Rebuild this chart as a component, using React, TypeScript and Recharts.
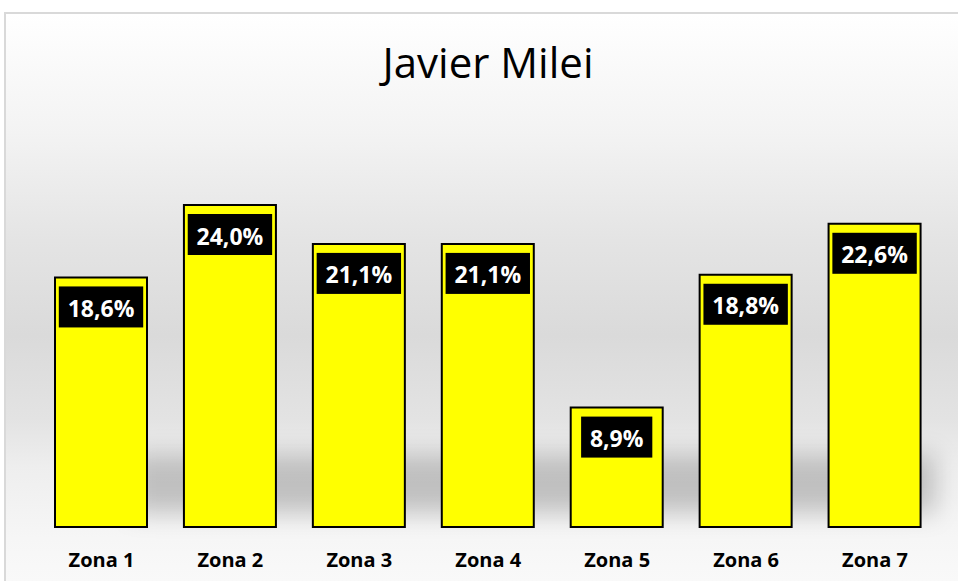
import React from 'react';
import { BarChart, Bar, XAxis, YAxis, LabelList } from 'recharts';

const zonas = ['Zona 1', 'Zona 2', 'Zona 3', 'Zona 4', 'Zona 5', 'Zona 6', 'Zona 7'];
const milei = [18.6, 24.0, 21.1, 21.1, 8.9, 18.8, 22.6];

const data = zonas.map((zona, i) => ({ zona, value: milei[i] }));

const FONT = '"Open Sans", "Noto Sans", sans-serif';

const fmt = (v: number) => v.toFixed(1).replace('.', ',') + '%';

// rough Open Sans bold widths at 23px, used to size the black label box
const textWidth = (s: string) =>
  s.split('').reduce((w, c) => w + (c === ',' ? 6.8 : c === '%' ? 20 : 13.2), 0);

const ValueBox = (props: any) => {
  const { x, y, width, value } = props;
  const label = fmt(Number(value));
  const boxW = textWidth(label) + 18;
  const cx = x + width / 2;
  const top = y + 9;
  return (
    <g>
      <rect x={cx - boxW / 2} y={top} width={boxW} height={41} fill="#000" />
      <text
        x={cx}
        y={top + 21.5}
        textAnchor="middle"
        dominantBaseline="central"
        fill="#fff"
        fontFamily={FONT}
        fontWeight={700}
        fontSize={23}
      >
        {label}
      </text>
    </g>
  );
};

const ZonaTick = (props: any) => {
  const { x, y, payload } = props;
  return (
    <text x={x} y={y + 32} textAnchor="middle" fill="#000" fontFamily={FONT} fontWeight={700} fontSize={20}>
      {payload.value}
    </text>
  );
};

const App: React.FC = () => {
  return (
    <div style={{ position: 'absolute', left: 0, top: 0, width: 958, height: 581, overflow: 'hidden', background: '#fff' }}>
      <div
        style={{
          position: 'absolute',
          left: 4,
          top: 12,
          width: 1000,
          height: 600,
          border: '2px solid #d9d9d9',
          boxSizing: 'border-box',
          background:
            'linear-gradient(to bottom, #ffffff 0%, #f3f3f3 20%, #e4e4e4 38%, #dadada 54%, #e3e3e3 68%, #eeeeee 76%, #f6f6f6 88%, #fbfbfb 100%)',
        }}
      />
      {/* soft floor shadow behind the bars */}
      <div
        style={{
          position: 'absolute',
          left: 130,
          top: 455,
          width: 805,
          height: 58,
          background: 'rgba(0,0,0,0.2)',
          filter: 'blur(12px)',
        }}
      />
      <div
        style={{
          position: 'absolute',
          left: 0,
          top: 33,
          width: 976,
          textAlign: 'center',
          fontFamily: FONT,
          fontSize: 42,
          lineHeight: '57px',
          color: '#000',
        }}
      >
        Javier Milei
      </div>
      <div style={{ position: 'absolute', left: 0, top: 0 }}>
        <BarChart width={958} height={581} data={data} margin={{ top: 124.5, right: 18.5, bottom: 24, left: 37 }}>
          <XAxis dataKey="zona" axisLine={false} tickLine={false} height={30} tick={<ZonaTick />} interval={0} />
          <YAxis hide domain={[0, 30]} />
          <Bar dataKey="value" fill="#ffff00" stroke="#000" strokeWidth={2} barSize={92} isAnimationActive={false}>
            <LabelList dataKey="value" content={<ValueBox />} />
          </Bar>
        </BarChart>
      </div>
    </div>
  );
};

export default App;
